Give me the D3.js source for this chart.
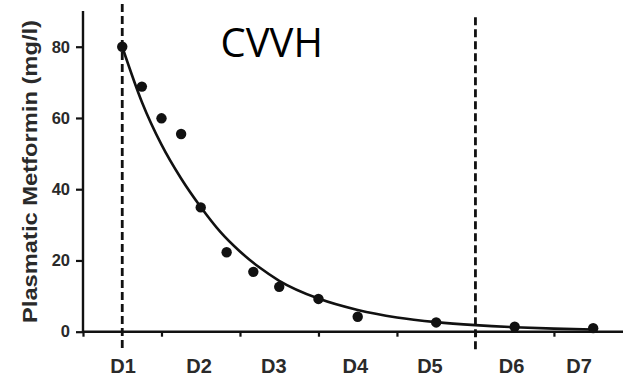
<!DOCTYPE html>
<html>
<head>
<meta charset="utf-8">
<script src="https://cdn.jsdelivr.net/npm/d3@7"></script>
<style>
  html, body { margin: 0; padding: 0; background: #fff; }
  svg { display: block; }
</style>
</head>
<body>
<script>
// ---- data ----
const dayTicks = [0, 1, 2, 3, 4, 5, 6];
const dayLabels = ["D1", "D2", "D3", "D4", "D5", "D6", "D7"];
const dayLabelPos = [0.51, 1.48, 2.43, 3.47, 4.42, 5.46, 6.32];
const yTicks = [0, 20, 40, 60, 80];
const sampleDays = [0.5, 0.75, 1.0, 1.25, 1.5, 1.83, 2.17, 2.5, 3.0, 3.5, 4.5, 5.5, 6.5];
const metformin = [80, 68.8, 59.9, 55.5, 34.9, 22.3, 16.8, 12.6, 9.2, 4.2, 2.6, 1.4, 1.0];
const fitDays = [0.5, 0.75, 1.0, 1.25, 1.5, 1.75, 2.0, 2.25, 2.5, 3.0, 3.5, 4.0, 4.5, 5.0, 5.5, 6.0, 6.5];
const fitValues = [80, 64.5, 52.5, 43, 35, 28, 22.5, 18, 14.3, 9.3, 6.1, 4.0, 2.7, 1.85, 1.25, 0.85, 0.6];
const markerDays = [0.5, 5.0];
const markerTop = [92, 88.3];
const markerBottom = -5;
const title = "CVVH";
const yTitle = "Plasmatic Metformin (mg/l)";

// ---- layout ----
const W = 623, H = 379;
const x = d3.scaleLinear().domain([0, 6.88]).range([83, 623]);
const y = d3.scaleLinear().domain([0, 90]).range([331.7, 11.1]);

const svg = d3.select("body").append("svg").attr("width", W).attr("height", H);

// dashed marker lines
svg.selectAll("line.marker").data(markerDays).join("line")
  .attr("class", "marker")
  .attr("x1", d => x(d)).attr("x2", d => x(d))
  .attr("y1", (d, i) => y(markerTop[i])).attr("y2", y(markerBottom))
  .attr("stroke", "#111").attr("stroke-width", 2.8)
  .attr("stroke-dasharray", "8,4");

// y axis
const yAxis = d3.axisLeft(y).tickValues(yTicks).tickSize(7).tickPadding(6).tickFormat(d3.format("d"));
const gy = svg.append("g").attr("transform", `translate(${x(0)},0)`).call(yAxis);
gy.select(".domain").attr("stroke", "#111").attr("stroke-width", 2.4)
  .attr("d", `M0,${y(90)}V${y(0)}`);
gy.selectAll(".tick line").attr("stroke", "#111").attr("stroke-width", 2.2);
gy.selectAll(".tick text").attr("fill", "#2a2a2a")
  .style("font-family", "'Liberation Sans', Arial, sans-serif")
  .style("font-weight", "bold").style("font-size", "16.5px");

// x axis (ticks without labels)
const xAxis = d3.axisBottom(x).tickValues(dayTicks).tickSize(5).tickFormat("");
const gx = svg.append("g").attr("transform", `translate(0,${y(0)})`).call(xAxis);
gx.select(".domain").attr("stroke", "#111").attr("stroke-width", 2.4)
  .attr("d", `M${x(0)},0H${W}`);
gx.selectAll(".tick line").attr("stroke", "#111").attr("stroke-width", 2.2);

// day labels
svg.selectAll("text.day").data(dayLabels).join("text")
  .attr("class", "day")
  .attr("x", (d, i) => x(dayLabelPos[i]))
  .attr("y", 373)
  .attr("text-anchor", "middle")
  .attr("fill", "#2a2a2a")
  .style("font-family", "'Liberation Sans', Arial, sans-serif")
  .style("font-weight", "bold").style("font-size", "20px")
  .text(d => d);

// y axis title
svg.append("text")
  .attr("transform", "translate(37,171.5) rotate(-90)")
  .attr("text-anchor", "middle")
  .attr("fill", "#2a2a2a")
  .attr("textLength", 303).attr("lengthAdjust", "spacingAndGlyphs")
  .style("font-family", "'Liberation Sans', Arial, sans-serif")
  .style("font-weight", "bold").style("font-size", "21px")
  .text(yTitle);

// fitted curve
const line = d3.line().x(d => x(d[0])).y(d => y(d[1])).curve(d3.curveMonotoneX);
svg.append("path")
  .datum(fitDays.map((d, i) => [d, fitValues[i]]))
  .attr("d", line)
  .attr("fill", "none").attr("stroke", "#111").attr("stroke-width", 2.6);

// measured points
svg.selectAll("circle.pt").data(sampleDays).join("circle")
  .attr("class", "pt")
  .attr("cx", d => x(d))
  .attr("cy", (d, i) => y(metformin[i]))
  .attr("r", 5.2)
  .attr("fill", "#111");

// title
svg.append("text")
  .attr("x", 220.5).attr("y", 56.7)
  .attr("fill", "#000")
  .style("font-family", "'Open Sans', sans-serif")
  .style("font-size", "40px")
  .text(title);
</script>
</body>
</html>
